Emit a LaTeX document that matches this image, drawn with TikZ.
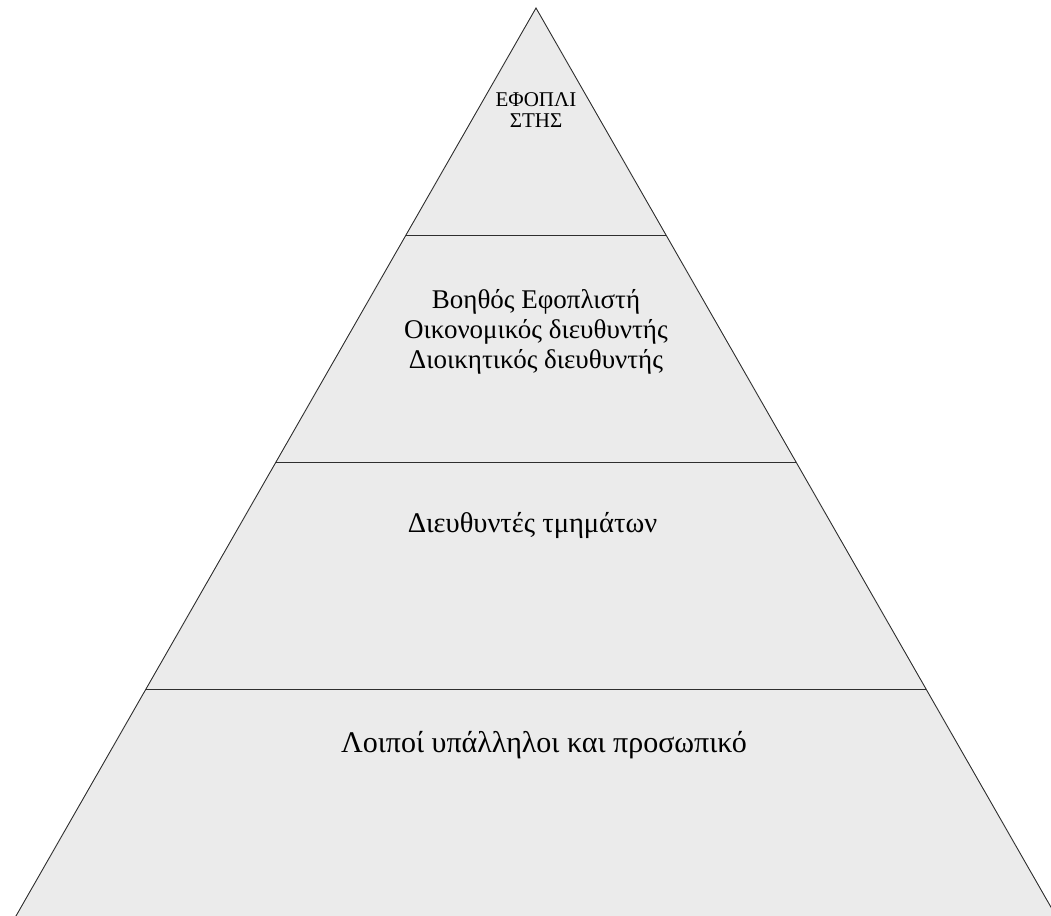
\documentclass[tikz,border=0pt]{standalone}
\usepackage{fontspec}
\setmainfont{Liberation Serif}
\usetikzlibrary{calc}
\definecolor{tierfill}{HTML}{EBEBEB}
\definecolor{tierline}{HTML}{2E2E2E}
\tikzset{
  tier/.style={fill=tierfill, draw=tierline, line width=0.9pt},
  split/.style={draw=tierline, line width=1.3pt},
  tiertext/.style={align=center, inner sep=0pt, font=\fontsize{27}{30}\selectfont},
  toptext/.style={align=center, inner sep=0pt, font=\fontsize{21}{21.5}\selectfont},
}
\def\apexx{536}
\def\apexy{8}
\def\basey{917}

\begin{document}
\begin{tikzpicture}[x=1pt, y=-1pt]
\useasboundingbox (0,0) rectangle (1051,915);
\clip (0,0) rectangle (1051,915);

% Pyramid outline (base falls just below the page)
\coordinate (apex) at (\apexx,\apexy);
\coordinate (baseL) at (15.4,\basey);
\coordinate (baseR) at (1056.6,\basey);
\filldraw[tier] (apex) -- (baseR) -- (baseL) -- cycle;

% Tier splits at quarters of the height
\foreach \t [count=\i] in {0.25, 0.5, 0.75} {
  \coordinate (sL\i) at ($(apex)!\t!(baseL)$);
  \coordinate (sR\i) at ($(apex)!\t!(baseR)$);
  \draw[split] (sL\i) -- (sR\i);
}

% Tier labels
\node[toptext] (owner) at (536,110) {ΕΦΟΠΛΙ\\ΣΤΗΣ};
\node[tiertext] (board) at (536,332) {Βοηθός Εφοπλιστή\\Οικονομικός διευθυντής\\Διοικητικός διευθυντής};
\node[tiertext, font=\fontsize{28.5}{30}\selectfont, anchor=base] (heads) at (532.5,532) {Διευθυντές τμημάτων};
\node[tiertext, font=\fontsize{30}{30}\selectfont, anchor=base] (staff) at (544,752) {Λοιποί υπάλληλοι και προσωπικό};

\end{tikzpicture}
\end{document}
